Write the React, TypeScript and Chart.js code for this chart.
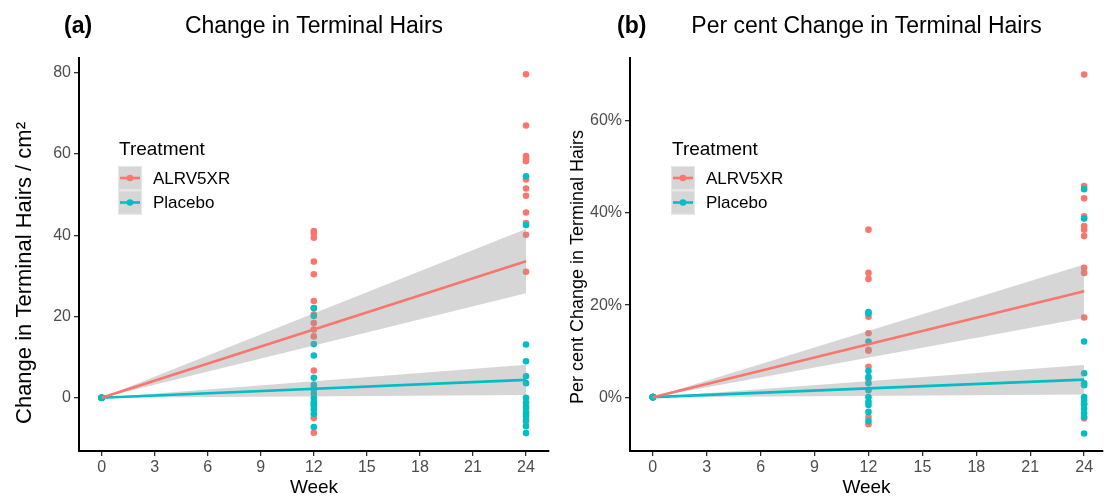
import React, { useEffect, useRef } from 'react';
import { Chart, registerables } from 'chart.js';

Chart.register(...registerables);

const FONT = '"Liberation Sans", Arial, Helvetica, sans-serif';
const RED = '#F8766D';
const TEAL = '#00BFC4';
const BAND = 'rgba(153,153,153,0.4)';
const TICK_GREY = '#4D4D4D';

// ---- axes / labels ----
const groupNames = ['ALRV5XR', 'Placebo'];
const xTickValues = [0, 3, 6, 9, 12, 15, 18, 21, 24];
const yTicksChange = [0, 20, 40, 60, 80];
const yTicksPct = [0, 20, 40, 60];

// ---- panel (a): change in terminal hairs / cm2 ----
const alrvChangeWk0 = [0, 0, 0, 0];
const alrvChangeWk12 = [41.0, 40.5, 39.4, 33.5, 30.4, 23.8, 22.0, 20.5, 18.4, 16.8, 15.1, 6.7, 2.5, -5.0, -8.6];
const alrvChangeWk24 = [79.6, 67.0, 59.5, 58.8, 58.2, 53.7, 51.5, 49.7, 45.6, 43.0, 40.1, 31.0, -2.0, -4.0, -6.0];
const placeboChangeWk0 = [0, 0, 0, 0];
const placeboChangeWk12 = [22.1, 20.1, 13.2, 10.4, 4.9, 3.2, 2.0, 1.0, 0.0, -1.0, -1.5, -2.0, -2.9, -4.0, -7.2];
const placeboChangeWk24 = [54.5, 42.5, 13.1, 9.0, 5.3, 3.6, 0.0, -1.2, -2.5, -3.5, -4.5, -5.5, -7.0, -8.7];

// ---- panel (b): per cent change in terminal hairs ----
const alrvPctWk0 = [0, 0, 0, 0];
const alrvPctWk12 = [36.4, 27.0, 25.7, 17.5, 13.9, 10.3, 10.1, 6.6, 4.0, -4.3, -5.9];
const alrvPctWk24 = [70.1, 45.9, 43.2, 39.3, 37.2, 36.4, 35.0, 28.1, 27.0, 17.3, -1.5, -4.6];
const placeboPctWk0 = [0, 0, 0, 0];
const placeboPctWk12 = [18.5, 18.2, 12.1, 5.7, 4.4, 3.0, 1.5, 0.0, -1.0, -1.7, -3.2, -5.2];
const placeboPctWk24 = [45.2, 38.8, 12.1, 5.2, 3.0, 2.6, 0.0, -0.7, -1.5, -2.5, -3.5, -4.3, -7.9];

// ---- fitted lines (through origin) with 95% bands ----
const fitWeeks = [0, 24];
const alrvChangeFit = [0, 33.6];
const alrvChangeUpper = [0, 41.5];
const alrvChangeLower = [0, 25.7];
const placeboChangeFit = [0, 4.4];
const placeboChangeUpper = [0, 8.1];
const placeboChangeLower = [0, 0.7];

const alrvPctFit = [0, 23.0];
const alrvPctUpper = [0, 28.8];
const alrvPctLower = [0, 17.2];
const placeboPctFit = [0, 3.8];
const placeboPctUpper = [0, 7.0];
const placeboPctLower = [0, 0.6];

type Pt = { x: number; y: number };
const toPoints = (week: number, vals: number[]): Pt[] => vals.map((v) => ({ x: week, y: v }));
const fitPoints = (vals: number[]): Pt[] => vals.map((v, i) => ({ x: fitWeeks[i], y: v }));

function buildDatasets(
  alrv: number[][],
  placebo: number[][],
  alrvFit: number[][],
  placeboFit: number[][]
) {
  const weeks = [0, 12, 24];
  const alrvPts = weeks.flatMap((w, i) => toPoints(w, alrv[i]));
  const placeboPts = weeks.flatMap((w, i) => toPoints(w, placebo[i]));
  const pointDs = (data: Pt[], color: string, order: number) => ({
    data,
    showLine: false,
    pointRadius: 3.3,
    pointBorderWidth: 0,
    pointBackgroundColor: color,
    pointBorderColor: color,
    backgroundColor: color,
    borderColor: color,
    order,
  });
  const bandUpper = (vals: number[]) => ({
    data: fitPoints(vals),
    fill: '+1',
    backgroundColor: BAND,
    borderColor: 'transparent',
    borderWidth: 0,
    pointRadius: 0,
    order: 1,
  });
  const bandLower = (vals: number[]) => ({
    data: fitPoints(vals),
    fill: false,
    borderColor: 'transparent',
    borderWidth: 0,
    pointRadius: 0,
    order: 1,
  });
  const line = (vals: number[], color: string) => ({
    data: fitPoints(vals),
    fill: false,
    borderColor: color,
    borderWidth: 2.6,
    pointRadius: 0,
    order: 0,
  });
  return [
    pointDs(alrvPts, RED, 3),
    pointDs(placeboPts, TEAL, 2),
    bandUpper(alrvFit[1]),
    bandLower(alrvFit[2]),
    bandUpper(placeboFit[1]),
    bandLower(placeboFit[2]),
    line(alrvFit[0], RED),
    line(placeboFit[0], TEAL),
  ];
}

function annotationPlugin(tag: string, title: string, yTitle: string, yTitleSize: number, yTitleCenter: number) {
  return {
    id: 'annotations',
    afterDraw(chart: any) {
      const ctx = chart.ctx as CanvasRenderingContext2D;
      const ca = chart.chartArea;
      ctx.save();
      ctx.fillStyle = '#000';
      ctx.textBaseline = 'alphabetic';
      ctx.font = `bold 23px ${FONT}`;
      ctx.textAlign = 'left';
      ctx.fillText(tag, 64, 33);
      ctx.font = `23px ${FONT}`;
      ctx.textAlign = 'center';
      ctx.fillText(title, (ca.left + ca.right) / 2, 33);

      // y axis title (rotated)
      ctx.save();
      ctx.translate(25, yTitleCenter);
      ctx.rotate(-Math.PI / 2);
      ctx.font = `${yTitleSize}px ${FONT}`;
      ctx.textAlign = 'center';
      ctx.textBaseline = 'middle';
      ctx.fillText(yTitle, 0, 0);
      ctx.restore();

      // legend
      const lx = 118;
      ctx.textAlign = 'left';
      ctx.textBaseline = 'alphabetic';
      ctx.font = `19px ${FONT}`;
      ctx.fillText('Treatment', lx + 1, 155);
      const colors = [RED, TEAL];
      groupNames.forEach((name, i) => {
        const ky = 166 + i * 24.5;
        ctx.fillStyle = '#D6D6D6';
        ctx.fillRect(lx, ky, 24, 24);
        ctx.strokeStyle = '#E6E6E6';
        ctx.lineWidth = 1;
        ctx.strokeRect(lx + 0.5, ky + 0.5, 23, 23);
        const cy = ky + 12;
        ctx.strokeStyle = colors[i];
        ctx.lineWidth = 2.6;
        ctx.beginPath();
        ctx.moveTo(lx + 2, cy);
        ctx.lineTo(lx + 22, cy);
        ctx.stroke();
        ctx.fillStyle = colors[i];
        ctx.beginPath();
        ctx.arc(lx + 12, cy, 3.3, 0, Math.PI * 2);
        ctx.fill();
        ctx.fillStyle = '#000';
        ctx.font = `17px ${FONT}`;
        ctx.textBaseline = 'middle';
        ctx.fillText(name, lx + 35, cy + 1);
        ctx.textBaseline = 'alphabetic';
      });
      ctx.restore();
    },
  };
}

interface PanelProps {
  width: number;
  tag: string;
  title: string;
  yTitle: string;
  yTitleSize: number;
  yTitleCenter: number;
  yTicks: number[];
  yFmt: (v: number) => string;
  yMin: number;
  yMax: number;
  xMin: number;
  xMax: number;
  yAxisWidth: number;
  rightPad: number;
  datasets: any[];
}

function Panel(p: PanelProps) {
  const ref = useRef<HTMLCanvasElement | null>(null);
  useEffect(() => {
    if (!ref.current) return;
    const chart = new Chart(ref.current, {
      type: 'line',
      data: { datasets: p.datasets },
      plugins: [annotationPlugin(p.tag, p.title, p.yTitle, p.yTitleSize, p.yTitleCenter)],
      options: {
        animation: false,
        responsive: false,
        events: [],
        layout: { padding: { left: 10, right: p.rightPad, top: 58, bottom: 0 } },
        plugins: { legend: { display: false }, tooltip: { enabled: false }, title: { display: false } },
        scales: {
          x: {
            type: 'linear',
            min: p.xMin,
            max: p.xMax,
            afterBuildTicks: (s: any) => {
              s.ticks = xTickValues.map((v) => ({ value: v }));
            },
            afterFit: (s: any) => {
              s.height = 46;
            },
            ticks: {
              color: TICK_GREY,
              font: { size: 16, family: FONT },
              padding: 2,
              maxRotation: 0,
              autoSkip: false,
              callback: (v: any) => String(v),
            },
            grid: { drawOnChartArea: false, drawTicks: true, tickLength: 5, color: '#333333', lineWidth: 1.3 },
            border: { display: true, color: '#000', width: 2 },
            title: { display: true, text: 'Week', color: '#000', font: { size: 19, family: FONT }, padding: { top: 0, bottom: -2 } },
          },
          y: {
            type: 'linear',
            min: p.yMin,
            max: p.yMax,
            afterBuildTicks: (s: any) => {
              s.ticks = p.yTicks.map((v) => ({ value: v }));
            },
            afterFit: (s: any) => {
              s.width = p.yAxisWidth;
            },
            ticks: {
              color: TICK_GREY,
              font: { size: 16, family: FONT },
              padding: 3,
              autoSkip: false,
              callback: (v: any) => p.yFmt(Number(v)),
            },
            grid: { drawOnChartArea: false, drawTicks: true, tickLength: 5, color: '#333333', lineWidth: 1.3 },
            border: { display: true, color: '#000', width: 2 },
            title: { display: false },
          },
        },
      } as any,
    });
    return () => chart.destroy();
  }, []);
  return <canvas ref={ref} width={p.width} height={497} style={{ display: 'block', width: p.width, height: 497 }} />;
}

export default function App() {
  Chart.defaults.font.family = FONT;
  const dsA = buildDatasets(
    [alrvChangeWk0, alrvChangeWk12, alrvChangeWk24],
    [placeboChangeWk0, placeboChangeWk12, placeboChangeWk24],
    [alrvChangeFit, alrvChangeUpper, alrvChangeLower],
    [placeboChangeFit, placeboChangeUpper, placeboChangeLower]
  );
  const dsB = buildDatasets(
    [alrvPctWk0, alrvPctWk12, alrvPctWk24],
    [placeboPctWk0, placeboPctWk12, placeboPctWk24],
    [alrvPctFit, alrvPctUpper, alrvPctLower],
    [placeboPctFit, placeboPctUpper, placeboPctLower]
  );
  return (
    <div style={{ position: 'fixed', left: 0, top: 0, width: 1107, height: 497, display: 'flex', background: '#fff' }}>
      <Panel
        width={553}
        tag="(a)"
        title="Change in Terminal Hairs"
        yTitle="Change in Terminal Hairs / cm²"
        yTitleSize={22}
        yTitleCenter={273}
        yTicks={yTicksChange}
        yFmt={(v) => String(v)}
        yMin={-13.1}
        yMax={83.6}
        xMin={-1.28}
        xMax={25.3}
        yAxisWidth={69}
        rightPad={2}
        datasets={dsA}
      />
      <Panel
        width={554}
        tag="(b)"
        title="Per cent Change in Terminal Hairs"
        yTitle="Per cent Change in Terminal Hairs"
        yTitleSize={18}
        yTitleCenter={267}
        yTicks={yTicksPct}
        yFmt={(v) => `${v}%`}
        yMin={-11.7}
        yMax={73.7}
        xMin={-1.27}
        xMax={25.05}
        yAxisWidth={67}
        rightPad={0}
        datasets={dsB}
      />
    </div>
  );
}
